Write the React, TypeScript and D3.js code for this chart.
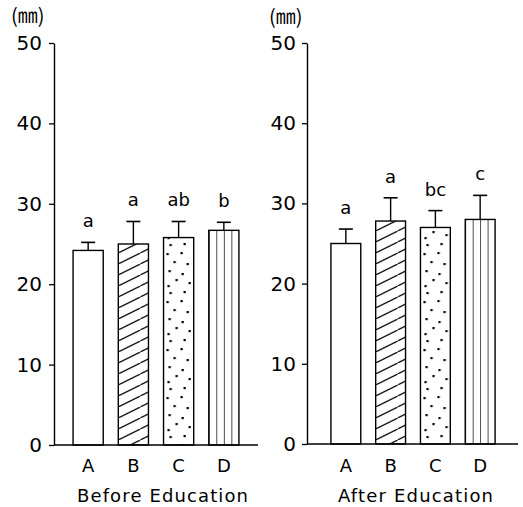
import React, { useRef, useEffect } from 'react';
import * as d3 from 'd3';

const groups = ['A', 'B', 'C', 'D'];
const yTicks = [0, 10, 20, 30, 40, 50];
const beforeMeans = [24.2, 25.0, 25.8, 26.7];
const beforeSD = [1.0, 2.8, 2.0, 1.0];
const beforeLetters = ['a', 'a', 'ab', 'b'];
const afterMeans = [25.0, 27.8, 27.0, 28.0];
const afterSD = [1.8, 2.9, 2.1, 3.0];
const afterLetters = ['a', 'a', 'bc', 'c'];
const panelTitles = ['Before Education', 'After Education'];
const unitLabel = '㎜';

const FONT = '"DejaVu Sans", "Liberation Sans", sans-serif';
const CJK = '"Noto Sans CJK JP", "DejaVu Sans", sans-serif';

// fixed stipple positions inside one pattern tile
const stipple = [
  [6, 4], [20, 3], [3, 13], [17, 12], [10, 21], [23, 23],
  [5, 30], [18, 33], [12, 39], [25, 42], [4, 45],
];

function Panel({ id, axisX, yTop, yBottom, xRange, baseEnd, means, sds, letters, title, titleX, titleW, unitX, unitY, tickPad }) {
  const axisRef = useRef(null);

  const y = d3.scaleLinear().domain([0, 50]).range([yBottom, yTop]);
  const x = d3.scaleBand().domain(groups).range(xRange).paddingInner(1 / 3).paddingOuter(1 / 3);
  const bw = x.bandwidth();

  useEffect(() => {
    const g = d3.select(axisRef.current);
    g.selectAll('*').remove();
    g.call(d3.axisLeft(y).tickValues(yTicks).tickSize(5).tickSizeOuter(0).tickPadding(tickPad));
    g.select('.domain').attr('stroke-width', 1.4);
    g.selectAll('.tick line').attr('stroke-width', 1.3);
    g.selectAll('.tick text')
      .attr('font-family', FONT)
      .attr('font-size', 20)
      .attr('fill', '#000');
  }, []);

  const fills = [
    '#fff',
    `url(#hatch-${id})`,
    `url(#dots-${id})`,
    `url(#vlines-${id})`,
  ];

  return (
    <g>
      <defs>
        <pattern id={`hatch-${id}`} patternUnits="userSpaceOnUse" width={22} height={11} x={x('B')} y={0}>
          <rect width={22} height={11} fill="#fff" />
          <line x1={-2} y1={12} x2={24} y2={-1} stroke="#000" strokeWidth={1.2} />
        </pattern>
        <pattern id={`dots-${id}`} patternUnits="userSpaceOnUse" width={bw} height={48} x={x('C')} y={0}>
          <rect width={bw} height={48} fill="#fff" />
          {stipple.map(([cx, cy], i) => (
            <rect key={i} x={cx} y={cy} width={2.2} height={2.2} fill="#000" />
          ))}
        </pattern>
        <pattern id={`vlines-${id}`} patternUnits="userSpaceOnUse" width={bw / 4} height={10} x={x('D')} y={0}>
          <rect width={bw / 4} height={10} fill="#fff" />
          <line x1={0} y1={0} x2={0} y2={10} stroke="#000" strokeWidth={1.4} />
        </pattern>
      </defs>

      <text x={unitX} y={unitY} fontFamily={CJK} fontSize={20} fill="#000">
        ({unitLabel})
      </text>

      {groups.map((grp, i) => {
        const bx = x(grp);
        const cx = bx + bw / 2;
        const top = y(means[i]);
        const errTop = y(means[i] + sds[i]);
        return (
          <g key={grp}>
            <rect x={bx} y={top} width={bw} height={y(0) - top} fill={fills[i]} stroke="#000" strokeWidth={1.4} />
            <line x1={cx} x2={cx} y1={top} y2={errTop} stroke="#000" strokeWidth={1.4} />
            <line x1={cx - 7} x2={cx + 7} y1={errTop} y2={errTop} stroke="#000" strokeWidth={1.6} />
            <text x={cx} y={errTop - 15} textAnchor="middle" fontFamily={FONT} fontSize={18} fill="#000">
              {letters[i]}
            </text>
            <text x={cx} y={472} textAnchor="middle" fontFamily={FONT} fontSize={18} fill="#000">
              {grp}
            </text>
          </g>
        );
      })}

      <line x1={axisX} x2={baseEnd} y1={y(0)} y2={y(0)} stroke="#000" strokeWidth={1.4} />
      <g ref={axisRef} transform={`translate(${axisX},0)`} />

      <text x={titleX} y={502} fontFamily={FONT} fontSize={18} fill="#000" textLength={titleW} lengthAdjust="spacing">
        {title}
      </text>
    </g>
  );
}

export default function App() {
  return (
    <svg width={523} height={507} style={{ position: 'absolute', left: 0, top: 0, background: '#fff' }}>
      <rect width={523} height={507} fill="#fff" />
      <Panel
        id="before"
        axisX={54}
        yTop={43}
        yBottom={445}
        xRange={[58, 254]}
        baseEnd={258}
        means={beforeMeans}
        sds={beforeSD}
        letters={beforeLetters}
        title={panelTitles[0]}
        titleX={77}
        titleW={171}
        unitX={11}
        unitY={23}
        tickPad={7}
      />
      <Panel
        id="after"
        axisX={307}
        yTop={43}
        yBottom={444}
        xRange={[316, 510]}
        baseEnd={518}
        means={afterMeans}
        sds={afterSD}
        letters={afterLetters}
        title={panelTitles[1]}
        titleX={338}
        titleW={155}
        unitX={269}
        unitY={24}
        tickPad={6}
      />
    </svg>
  );
}
